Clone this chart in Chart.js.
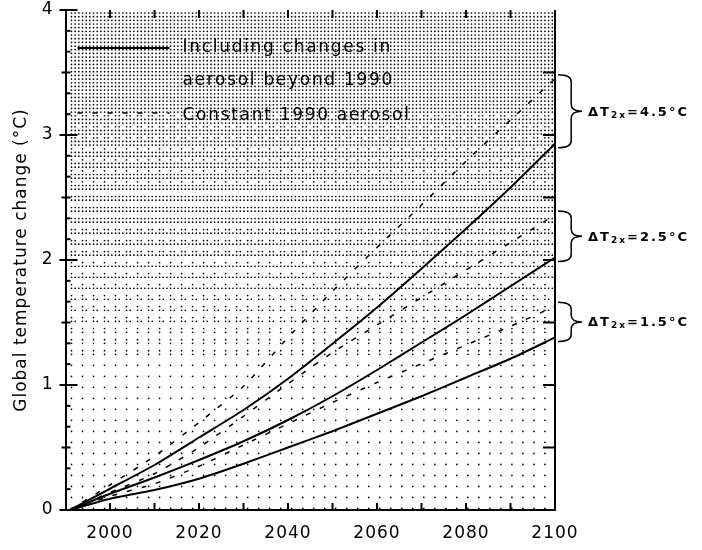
<!DOCTYPE html>
<html>
<head>
<meta charset="utf-8">
<script src="https://cdn.jsdelivr.net/npm/chart.js@4.4.1/dist/chart.umd.min.js"></script>
<style>
  html, body { margin: 0; padding: 0; background: #fff; }
</style>
</head>
<body>
<canvas id="grafico" width="702" height="550"></canvas>
<script>
// Datos (cambio de temperatura global, °C)
const anios = [1991, 2000, 2010, 2020, 2030, 2040, 2050, 2060, 2070, 2080, 2090, 2100];

// Incluyendo cambios en aerosoles después de 1990 (líneas sólidas)
const conAerosol45 = [0, 0.17, 0.36, 0.58, 0.80, 1.05, 1.33, 1.62, 1.93, 2.25, 2.58, 2.93];
const conAerosol25 = [0, 0.13, 0.26, 0.40, 0.55, 0.72, 0.91, 1.12, 1.34, 1.56, 1.79, 2.02];
const conAerosol15 = [0, 0.09, 0.16, 0.25, 0.37, 0.50, 0.63, 0.77, 0.91, 1.06, 1.21, 1.38];

// Aerosol constante de 1990 (líneas discontinuas)
const aerosolFijo45 = [0, 0.20, 0.43, 0.70, 0.99, 1.38, 1.75, 2.10, 2.44, 2.79, 3.12, 3.45];
const aerosolFijo25 = [0, 0.14, 0.29, 0.50, 0.75, 1.01, 1.26, 1.48, 1.70, 1.92, 2.14, 2.36];
const aerosolFijo15 = [0, 0.11, 0.21, 0.35, 0.52, 0.69, 0.86, 1.02, 1.17, 1.32, 1.47, 1.63];

const sensibilidades = [4.5, 2.5, 1.5];
const etiquetasX = [2000, 2020, 2040, 2060, 2080, 2100];
const etiquetasY = [0, 1, 2, 3, 4];

const textoLeyenda = ['Including changes in', 'aerosol beyond 1990', 'Constant 1990 aerosol'];

const FUENTE = '"DejaVu Sans", sans-serif';
Chart.defaults.color = '#000';
Chart.defaults.font.family = FUENTE;

const serie = vals => anios.map((a, i) => ({ x: a, y: vals[i] }));
const solida = vals => ({ data: serie(vals), borderColor: '#000', borderWidth: 2, pointRadius: 0, tension: 0.2 });
const punteada = vals => ({ data: serie(vals), borderColor: '#000', borderWidth: 1.5, borderDash: [5, 10], pointRadius: 0, tension: 0.2 });

// --- Trama de puntos del fondo (más densa arriba) ---
const paradasTrama = [[0, 0.1], [1.1, 0.12], [1.5, 0.28], [2, 0.5], [2.5, 0.7], [3, 0.86], [3.3, 1]];
const matriz = [[0, 2, 3], [6, 7, 8], [1, 4, 5]];

function densidad(t) {
    if (t <= paradasTrama[0][0]) return paradasTrama[0][1];
    for (let i = 1; i < paradasTrama.length; i++) {
        const [t1, d1] = paradasTrama[i];
        const [t0, d0] = paradasTrama[i - 1];
        if (t <= t1) return d0 + (d1 - d0) * (t - t0) / (t1 - t0);
    }
    return 1;
}

const espaciado = {
    id: 'espaciado',
    beforeDraw(chart) { chart.ctx.letterSpacing = '1px'; }
};

const trama = {
    id: 'trama',
    beforeDatasetsDraw(chart) {
        const { ctx, chartArea: a, scales: { y } } = chart;
        const paso = 3.67;
        ctx.save();
        ctx.fillStyle = '#000';
        for (let j = 0; a.top + 3 + j * paso < a.bottom - 1; j++) {
            const py = a.top + 3 + j * paso;
            const d = densidad(y.getValueForPixel(py));
            for (let i = 0; a.left + 6 + i * paso < a.right - 2; i++) {
                const px = a.left + 6 + i * paso;
                if ((matriz[j % 3][i % 3] + 0.5) / 9 < d) {
                    ctx.beginPath();
                    ctx.arc(px, py, 0.85, 0, Math.PI * 2);
                    ctx.fill();
                }
            }
        }
        ctx.restore();
    }
};

function linea(ctx, x1, y1, x2, y2) {
    ctx.beginPath();
    ctx.moveTo(x1, y1);
    ctx.lineTo(x2, y2);
    ctx.stroke();
}

function llave(ctx, x0, yTop, yBot, w) {
    const xm = x0 + w * 0.55, xt = x0 + w, ym = (yTop + yBot) / 2, r = 7;
    ctx.beginPath();
    ctx.moveTo(x0, yTop);
    ctx.quadraticCurveTo(xm, yTop, xm, yTop + r);
    ctx.lineTo(xm, ym - r);
    ctx.quadraticCurveTo(xm, ym, xt, ym);
    ctx.quadraticCurveTo(xm, ym, xm, ym + r);
    ctx.lineTo(xm, yBot - r);
    ctx.quadraticCurveTo(xm, yBot, x0, yBot);
    ctx.stroke();
}

// --- Marco, marcas de ejes, leyenda y llaves ---
const marco = {
    id: 'marco',
    afterDatasetsDraw(chart) {
        const { ctx, chartArea: a, scales: { x, y } } = chart;
        ctx.save();
        ctx.strokeStyle = '#000';
        ctx.lineWidth = 2;
        linea(ctx, a.right, a.top, a.right, a.bottom);

        for (let yr = 2000; yr < 2100; yr += 10) {
            const px = x.getPixelForValue(yr);
            linea(ctx, px, a.bottom, px, a.bottom - 7);
            linea(ctx, px, a.top, px, a.top + 8);
        }
        for (let k = 0; k <= 24; k++) {
            const py = y.getPixelForValue(k / 6);
            if (k % 6 === 0) linea(ctx, a.left - 6, py, a.left + 12, py);
            else if (k % 3 === 0) linea(ctx, a.left - 4, py, a.left + 5, py);
            else linea(ctx, a.left, py, a.left + 5, py);
            if (k % 3 === 0 && k > 0 && k < 24) linea(ctx, a.right - 12, py, a.right, py);
        }

        // leyenda
        const lx = a.left + 12, tx = a.left + 117;
        ctx.lineWidth = 2;
        linea(ctx, lx, 48, lx + 92, 48);
        ctx.lineWidth = 1.5;
        ctx.setLineDash([5, 10]);
        linea(ctx, lx, 113, lx + 92, 113);
        ctx.setLineDash([]);
        ctx.fillStyle = '#000';
        ctx.font = '17px ' + FUENTE;
        ctx.letterSpacing = '1.7px';
        ctx.textBaseline = 'middle';
        ctx.textAlign = 'left';
        ctx.fillText(textoLeyenda[0], tx, 48);
        ctx.fillText(textoLeyenda[1], tx, 81);
        ctx.fillText(textoLeyenda[2], tx, 116);

        // llaves con ΔT2x
        const finales = [[aerosolFijo45, conAerosol45], [aerosolFijo25, conAerosol25], [aerosolFijo15, conAerosol15]];
        ctx.lineWidth = 1.5;
        finales.forEach(([alta, baja], i) => {
            const y1 = y.getPixelForValue(alta[alta.length - 1]) - 4;
            const y2 = y.getPixelForValue(baja[baja.length - 1]) + 4;
            llave(ctx, a.right + 3, y1, y2, 24);
            const ym = (y1 + y2) / 2 + 1;
            let px = a.right + 33;
            ctx.letterSpacing = '2px';
            ctx.font = 'bold 13px ' + FUENTE;
            ctx.fillText('ΔT', px, ym);
            px += ctx.measureText('ΔT').width;
            ctx.font = 'bold 9px ' + FUENTE;
            ctx.fillText('2x', px, ym + 3);
            px += ctx.measureText('2x').width;
            ctx.font = 'bold 13px ' + FUENTE;
            ctx.fillText('=' + sensibilidades[i].toFixed(1) + '°C', px, ym);
        });
        ctx.restore();
    }
};

const ctx = document.getElementById('grafico').getContext('2d');
new Chart(ctx, {
    type: 'line',
    data: {
        datasets: [
            solida(conAerosol45), solida(conAerosol25), solida(conAerosol15),
            punteada(aerosolFijo45), punteada(aerosolFijo25), punteada(aerosolFijo15)
        ]
    },
    options: {
        responsive: false,
        animation: false,
        layout: { padding: { top: 10, right: 147, left: 0, bottom: 0 } },
        plugins: { legend: { display: false }, tooltip: { enabled: false } },
        scales: {
            x: {
                type: 'linear', min: 1990, max: 2100,
                afterFit: s => { s.height = 40; s.paddingLeft = 0; s.paddingRight = 0; },
                afterBuildTicks: s => { s.ticks = etiquetasX.map(v => ({ value: v })); },
                grid: { display: false, drawTicks: false },
                border: { display: true, color: '#000', width: 2, dash: [7, 4] },
                ticks: { font: { size: 17 }, padding: 13, maxRotation: 0, callback: v => String(v) }
            },
            y: {
                min: 0, max: 4,
                afterFit: s => { s.width = 65.5; s.paddingTop = 0; s.paddingBottom = 0; },
                afterBuildTicks: s => { s.ticks = etiquetasY.map(v => ({ value: v })); },
                grid: { display: false, drawTicks: false },
                border: { display: true, color: '#000', width: 2 },
                ticks: { font: { size: 17 }, padding: 12 },
                title: { display: true, text: 'Global temperature change (°C)', font: { size: 17 }, padding: { top: 11, bottom: 0 } }
            }
        }
    },
    plugins: [espaciado, trama, marco]
});
</script>
</body>
</html>
